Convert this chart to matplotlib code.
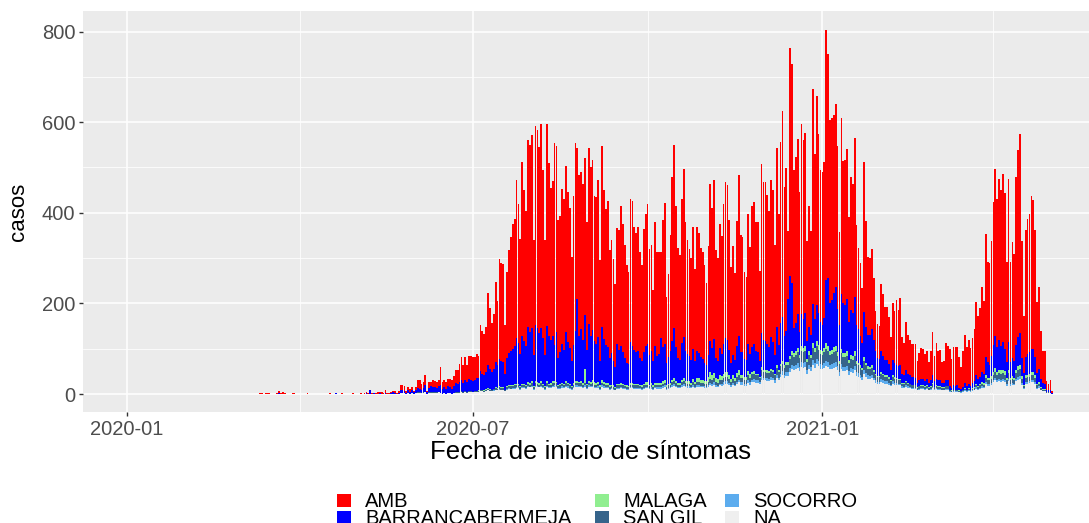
import numpy as np
import pandas as pd
import matplotlib
matplotlib.use("Agg")
import matplotlib.pyplot as plt
import matplotlib.dates as mdates
from matplotlib.patches import Rectangle

plt.rcParams['font.family'] = ['Liberation Sans', 'DejaVu Sans']

# casos diarios desde 2020-01-02 (altura total de la barra apilada)
total = (
    [1, 0, 1] + [0] * 66
    + [3, 2, 1, 2, 2, 3, 1]
    + [1, 0, 2, 7, 3, 4, 2, 1, 1, 1, 2, 3, 1]
    + [0, 1, 0, 1, 1, 2, 1, 0, 1, 1, 1, 0, 1, 0, 1, 1, 0, 2, 1, 0]
    + [3, 1, 1, 2, 1, 1, 0, 1, 1, 2, 1, 0, 1, 2, 1]
    + [3, 5, 2, 10, 3, 3, 2, 4, 5, 4, 2, 8, 3, 3, 4, 7, 6, 3, 7, 21,
       19, 18, 6, 15, 11, 15, 7, 16, 31, 30, 22, 27, 41, 7, 26, 26, 30, 28, 26, 31]
    + [59, 26, 30, 27, 33, 33, 31, 40, 52, 52, 66, 81, 63, 81, 64, 85, 83, 82, 82, 88,
       85, 153, 139, 133, 147, 223, 190, 156, 177, 247, 206, 298, 290, 288, 153, 269, 317, 346, 376, 387,
       472, 420, 343, 512, 450, 405, 560, 549, 571, 339, 591, 582, 545, 595, 494, 339, 597, 510]
    + [455, 470, 554, 548, 383, 394, 452, 430, 503, 445, 410, 302, 438, 553, 542, 483, 490, 464, 522, 380,
       542, 500, 517, 438, 435, 473, 295, 548, 451, 409, 427, 318, 340, 298, 242, 366, 362, 416, 376, 328,
       285, 269, 431, 427, 368, 355, 369, 313, 284, 365, 398, 419, 321]
    + [330, 230, 380, 313, 313, 313, 383, 422, 215, 265, 350, 478, 549, 416, 322, 306, 431, 496, 380, 340,
       321, 300, 368, 276, 369, 355, 322, 313, 285, 245, 326, 464, 410, 472, 318, 300, 376, 348, 420, 468,
       462, 383, 280, 326, 267, 381, 483, 350, 346, 269, 258, 398, 324]
    + [415, 423, 379, 379, 271, 507, 468, 468, 440, 404, 472, 450, 329, 543, 397, 557, 625, 458, 498, 360,
       763, 728, 495, 524, 563, 447, 596, 561, 577, 337, 415, 359, 674, 529, 658, 574, 495, 491, 513, 803,
       750, 604, 609, 615, 641, 548]
    + [357, 610, 515, 516, 540, 390, 478, 463, 566, 374, 322, 289, 233, 513, 381, 303, 300, 320, 257, 184,
       154, 150, 243, 221, 193, 193, 169, 126, 200, 184, 208, 185, 213, 126, 112, 158, 131, 119, 110, 110,
       110, 72, 90, 101, 99, 88, 96, 70, 94, 136, 85, 112, 96, 97, 70, 74, 112, 107]
    + [99, 77, 103, 103, 103, 81, 59, 95, 131, 103, 119, 101, 124, 144, 203, 173, 189, 236, 206, 354,
       291, 289, 338, 424, 496, 431, 475, 450, 485, 444, 291, 475, 291, 335, 308, 480, 539, 573, 338, 173,
       361, 387, 398, 438, 429, 361, 204, 236, 139, 94, 94, 29, 22, 31, 7]
)

barranca = (
    [0] * 69
    + [0, 1, 0, 0, 1, 0, 0]
    + [0, 0, 1, 2, 1, 1, 0, 0, 1, 0, 1, 1, 0]
    + [0, 1, 0, 1, 0, 1, 1, 0, 1, 0, 0, 0, 1, 0, 0, 1, 0, 1, 1, 0]
    + [2, 0, 1, 1, 0, 1, 0, 0, 1, 1, 0, 0, 1, 1, 0]
    + [1, 2, 1, 8, 1, 2, 1, 1, 2, 1, 1, 2, 1, 1, 2, 3, 2, 1, 2, 6,
       5, 4, 2, 5, 3, 6, 3, 7, 9, 8, 6, 10, 15, 3, 10, 14, 12, 11, 9, 13]
    + [18, 10, 12, 10, 14, 12, 11, 15, 20, 18, 22, 25, 20, 26, 22, 28, 25, 24, 26, 28,
       27, 40, 35, 33, 38, 50, 45, 38, 44, 55, 50, 60, 58, 56, 35, 62, 70, 75, 80, 85,
       100, 90, 72, 105, 95, 88, 120, 112, 118, 70, 125, 120, 110, 118, 100, 70, 122, 105]
    + [95, 100, 80, 110, 60, 70, 85, 75, 110, 90, 80, 55, 85, 110, 180, 100, 115, 95, 120, 75,
       125, 100, 110, 90, 85, 100, 55, 118, 95, 85, 80, 60, 70, 55, 45, 88, 75, 80, 70, 60,
       50, 48, 90, 80, 75, 70, 72, 60, 55, 70, 80, 85, 65]
    + [70, 55, 80, 60, 65, 100, 75, 80, 50, 60, 70, 85, 110, 75, 55, 50, 80, 90, 65, 60,
       55, 50, 65, 45, 60, 55, 50, 45, 40, 35, 50, 70, 60, 75, 45, 40, 60, 50, 65, 75,
       70, 55, 35, 45, 40, 60, 75, 50, 50, 40, 38, 60, 45]
    + [55, 60, 50, 48, 35, 75, 65, 62, 58, 52, 70, 60, 42, 85, 55, 90, 95, 65, 70, 140,
       175, 150, 55, 60, 75, 50, 70, 65, 72, 40, 52, 45, 85, 65, 80, 70, 60, 58, 65, 140,
       150, 105, 110, 120, 130, 95]
    + [80, 120, 110, 105, 115, 85, 100, 95, 120, 80, 75, 65, 55, 100, 80, 70, 70, 80, 65, 50,
       40, 38, 45, 40, 35, 35, 30, 22, 35, 32, 30, 28, 30, 20, 18, 25, 20, 18, 17, 17,
       16, 10, 14, 15, 14, 12, 14, 10, 13, 18, 12, 15, 13, 13, 10, 10, 14, 13]
    + [8, 6, 9, 8, 9, 6, 4, 7, 10, 8, 9, 8, 10, 12, 18, 15, 16, 22, 20, 40,
       35, 30, 45, 60, 70, 55, 65, 55, 60, 50, 35, 60, 35, 40, 38, 55, 65, 70, 40, 25,
       40, 45, 48, 50, 50, 40, 25, 28, 18, 12, 10, 5, 4, 5, 1]
)

malaga = (
    [0] * 69 + [0] * 95
    + [0] * 20
    + [1, 1, 0, 1, 1, 2, 1, 1, 1, 2, 2, 2, 2, 2, 1, 2, 3, 2, 3, 3,
       3, 3, 2, 3, 3, 2, 4, 3, 4, 2, 4, 3, 3, 4, 3, 2, 4, 3]
    + [3, 4, 4, 3, 2, 3, 3, 3, 4, 3, 3, 2, 3, 4, 4, 3, 4, 3, 30, 3,
       4, 4, 8, 6, 5, 4, 3, 6, 5, 4, 4, 3, 3, 3, 2, 4, 4, 4, 4, 3,
       3, 3, 4, 4, 4, 4, 4, 3, 3, 4, 5, 5, 4]
    + [4, 3, 4, 4, 4, 4, 5, 5, 3, 3, 4, 5, 6, 5, 4, 4, 6, 7, 5, 5,
       5, 4, 7, 5, 8, 9, 7, 8, 6, 7, 10, 14, 12, 12, 8, 8, 10, 9, 10, 11,
       11, 9, 7, 8, 7, 9, 10, 8, 8, 7, 7, 9, 8]
    + [5, 5, 4, 4, 3, 6, 5, 5, 5, 5, 5, 5, 4, 6, 5, 6, 7, 5, 6, 6,
       8, 9, 8, 9, 10, 7, 10, 9, 10, 7, 8, 7, 11, 9, 11, 10, 9, 8, 9, 12,
       11, 9, 9, 10, 10, 8]
    + [7, 10, 9, 9, 9, 7, 8, 8, 9, 7, 6, 6, 5, 8, 6, 5, 5, 6, 5, 4,
       3, 3, 4, 4, 3, 3, 3, 2, 3, 3, 2, 2, 2, 2, 2, 2, 2, 1, 1, 1,
       1, 1, 1, 1, 1, 1, 1, 1, 1, 2, 1, 1, 1, 1, 1, 1, 1, 1]
    + [1, 1, 1, 1, 1, 1, 1, 1, 2, 1, 2, 1, 2, 2, 3, 2, 3, 4, 3, 6,
       5, 5, 6, 7, 8, 7, 8, 8, 8, 7, 5, 8, 5, 6, 5, 8, 9, 10, 6, 3,
       6, 6, 7, 7, 7, 6, 3, 4, 2, 2, 2, 1, 1, 0, 0]
)

san_gil = (
    [0] * 69 + [0] * 55
    + [0, 0, 0, 0, 0, 0, 0, 0, 0, 0, 0, 0, 0, 0, 0, 0, 0, 0, 0, 1,
       1, 1, 0, 1, 0, 1, 0, 1, 1, 1, 1, 1, 1, 0, 1, 1, 1, 1, 1, 1]
    + [1, 0, 1, 0, 1, 1, 0, 1, 1, 1, 1, 2, 1, 2, 1, 2, 2, 1, 2, 2,
       2, 3, 2, 2, 3, 3, 3, 2, 3, 3, 3, 4, 4, 3, 2, 4, 4, 5, 4, 5,
       5, 5, 4, 5, 5, 4, 6, 5, 6, 4, 6, 6, 5, 6, 5, 4, 6, 5]
    + [5, 6, 6, 6, 4, 5, 5, 5, 6, 5, 5, 4, 5, 6, 6, 6, 6, 5, 6, 5,
       6, 5, 6, 5, 5, 5, 4, 6, 5, 5, 5, 4, 4, 4, 3, 5, 5, 5, 5, 4,
       4, 4, 5, 5, 5, 5, 5, 4, 4, 5, 5, 5, 4]
    + [5, 4, 5, 5, 5, 5, 6, 6, 4, 5, 5, 6, 7, 6, 5, 5, 6, 7, 6, 6,
       6, 5, 7, 6, 7, 7, 6, 6, 6, 6, 7, 9, 8, 9, 7, 7, 8, 8, 9, 10,
       10, 9, 7, 9, 8, 10, 11, 9, 9, 8, 8, 11, 10]
    + [12, 12, 11, 11, 9, 14, 13, 13, 12, 12, 13, 13, 11, 15, 13, 16, 17, 15, 16, 16,
       20, 22, 21, 22, 24, 20, 25, 24, 25, 18, 22, 20, 26, 24, 27, 25, 23, 22, 24, 26,
       25, 22, 23, 24, 25, 22]
    + [18, 24, 22, 22, 23, 18, 21, 20, 23, 18, 17, 16, 14, 20, 17, 15, 15, 15, 13, 11,
       10, 10, 12, 11, 10, 10, 9, 8, 10, 9, 9, 8, 8, 6, 6, 7, 6, 6, 5, 5,
       5, 4, 5, 5, 5, 4, 5, 4, 4, 6, 4, 5, 4, 4, 4, 4, 5, 5]
    + [2, 2, 3, 3, 3, 2, 2, 2, 3, 3, 3, 3, 3, 4, 5, 4, 5, 6, 5, 9,
       8, 8, 9, 11, 13, 11, 12, 12, 12, 11, 8, 12, 8, 9, 8, 12, 14, 15, 9, 5,
       9, 10, 10, 11, 11, 9, 5, 6, 4, 3, 3, 1, 1, 1, 0]
)

socorro = (
    [1] + [0] * 68 + [0] * 95
    + [0] * 20
    + [1, 0, 1, 0, 1, 1, 0, 1, 1, 1, 1, 1, 1, 1, 0, 1, 2, 1, 1, 2,
       1, 2, 1, 1, 2, 1, 2, 1, 2, 1, 2, 2, 1, 2, 1, 1, 2, 1]
    + [2, 3, 3, 3, 2, 2, 3, 2, 3, 3, 2, 2, 2, 3, 3, 3, 3, 2, 3, 2,
       3, 3, 3, 2, 2, 3, 2, 3, 3, 2, 2, 2, 2, 2, 1, 2, 2, 3, 2, 2,
       2, 2, 3, 3, 2, 2, 2, 2, 2, 2, 3, 3, 2]
    + [3, 2, 3, 3, 3, 3, 3, 4, 2, 3, 3, 4, 4, 3, 3, 3, 4, 4, 3, 3,
       3, 3, 4, 3, 4, 4, 3, 3, 3, 3, 4, 5, 4, 5, 4, 3, 4, 4, 5, 5,
       5, 5, 4, 5, 4, 5, 6, 5, 5, 4, 4, 6, 5]
    + [6, 6, 5, 5, 4, 7, 6, 6, 6, 6, 6, 6, 5, 7, 6, 7, 8, 7, 8, 8,
       9, 10, 9, 10, 10, 9, 11, 10, 11, 8, 10, 9, 11, 10, 12, 11, 10, 10, 11, 12,
       11, 10, 10, 11, 11, 10]
    + [8, 11, 10, 10, 10, 8, 9, 9, 10, 8, 8, 7, 6, 9, 8, 7, 7, 7, 6, 5,
       5, 5, 6, 5, 5, 5, 4, 4, 5, 4, 4, 4, 4, 3, 3, 3, 3, 3, 2, 2,
       2, 2, 2, 2, 2, 2, 2, 2, 2, 3, 2, 2, 2, 2, 2, 2, 2, 2]
    + [1, 1, 1, 1, 1, 1, 1, 1, 2, 1, 2, 1, 2, 2, 3, 2, 3, 3, 3, 4,
       4, 4, 4, 5, 6, 5, 5, 5, 5, 5, 4, 5, 4, 4, 4, 5, 6, 6, 4, 2,
       4, 4, 4, 5, 5, 4, 2, 3, 2, 1, 1, 1, 1, 0, 0]
)

# casos sin municipio asignado (NA), capa inferior casi del color del fondo
na = (
    [0] * 69 + [0] * 55
    + [0, 0, 0, 0, 0, 0, 0, 0, 0, 0, 0, 1, 0, 0, 0, 1, 0, 0, 1, 2,
       2, 2, 1, 2, 1, 2, 1, 2, 3, 3, 2, 3, 4, 1, 3, 3, 3, 3, 3, 4]
    + [2, 1, 2, 1, 2, 2, 1, 2, 3, 3, 3, 4, 3, 4, 3, 4, 4, 4, 4, 5,
       4, 6, 6, 5, 6, 8, 7, 6, 7, 9, 8, 10, 9, 9, 6, 10, 11, 11, 12, 12,
       14, 13, 10, 14, 13, 12, 15, 15, 16, 10, 16, 15, 15, 16, 14, 10, 16, 14]
    + [14, 15, 16, 15, 12, 12, 14, 13, 15, 14, 12, 10, 14, 16, 16, 15, 15, 14, 16, 12,
       16, 15, 15, 14, 13, 14, 10, 16, 14, 13, 13, 10, 11, 10, 9, 12, 12, 13, 12, 11,
       10, 9, 13, 13, 12, 12, 12, 11, 10, 12, 13, 13, 11]
    + [12, 10, 13, 12, 12, 12, 14, 15, 10, 11, 13, 16, 18, 15, 13, 13, 16, 18, 15, 14,
       14, 13, 16, 13, 16, 16, 15, 15, 14, 13, 16, 20, 18, 21, 16, 15, 19, 18, 21, 23,
       23, 20, 16, 20, 17, 22, 26, 21, 21, 18, 18, 24, 21]
    + [26, 27, 25, 25, 22, 32, 30, 30, 29, 28, 31, 30, 25, 35, 30, 38, 42, 36, 40, 40,
       48, 55, 52, 55, 58, 50, 60, 58, 60, 45, 55, 50, 65, 58, 66, 62, 56, 55, 58, 62,
       60, 55, 56, 58, 60, 52]
    + [40, 55, 50, 50, 52, 42, 48, 46, 52, 40, 38, 35, 32, 45, 38, 34, 33, 35, 30, 25,
       22, 22, 27, 25, 23, 23, 21, 17, 23, 21, 20, 19, 19, 14, 13, 16, 14, 13, 12, 12,
       12, 8, 10, 11, 11, 10, 11, 8, 10, 13, 9, 11, 10, 10, 8, 8, 10, 10]
    + [5, 4, 5, 5, 5, 4, 3, 5, 7, 5, 6, 5, 7, 8, 12, 10, 11, 14, 13, 22,
       18, 18, 21, 26, 30, 26, 29, 27, 29, 27, 18, 29, 18, 20, 19, 29, 32, 34, 20, 11,
       22, 23, 24, 26, 26, 22, 12, 14, 8, 6, 6, 2, 2, 2, 1]
)

fechas = pd.date_range('2020-01-02', periods=len(total), freq='D')
total = np.array(total)
otros = np.array(barranca) + np.array(malaga) + np.array(san_gil) + np.array(socorro) + np.array(na)
amb = total - otros  # AMB es la parte superior de cada barra

nombres = ['AMB', 'BARRANCABERMEJA', 'MALAGA', 'SAN GIL', 'SOCORRO', 'NA']
colores = ['#FF0000', '#0000FF', '#90EE90', '#36648B', '#5CACEE', '#EFEFEF']
series = [amb, barranca, malaga, san_gil, socorro, na]

fig = plt.figure(figsize=(10.89, 5.23), dpi=100)
ax = fig.add_axes([0.0762, 0.2122, 0.932, 0.7667])
ax.set_facecolor('#EBEBEB')

# apilado de abajo hacia arriba: NA, SOCORRO, SAN GIL, MALAGA, BARRANCABERMEJA, AMB
base = np.zeros(len(total))
for valores, color in zip(series[::-1], colores[::-1]):
    valores = np.array(valores, dtype=float)
    ax.bar(fechas, valores, width=0.9, bottom=base, color=color, linewidth=0, zorder=3)
    base = base + valores

origen = pd.Timestamp('2020-01-01')
ax.set_xlim(origen - pd.Timedelta(days=23.2), origen + pd.Timedelta(days=511))
ax.set_ylim(-39.7, 845.3)

ax.set_yticks([0, 200, 400, 600, 800])
ax.set_yticks([100, 300, 500, 700], minor=True)
ax.set_xticks(pd.to_datetime(['2020-01-01', '2020-07-01', '2021-01-01']))
ax.set_xticks(pd.to_datetime(['2020-04-01', '2020-10-01', '2021-04-01']), minor=True)
ax.xaxis.set_major_formatter(mdates.DateFormatter('%Y-%m'))

ax.grid(which='major', color='white', linewidth=1.1, zorder=0)
ax.grid(which='minor', color='white', linewidth=0.55, zorder=0)
ax.set_axisbelow(True)
for s in ax.spines.values():
    s.set_visible(False)

ax.tick_params(which='major', length=3, width=1.0, color='#333333',
               labelcolor='#4D4D4D', labelsize=14.5, pad=2.5)
ax.tick_params(which='minor', length=0)

ax.set_xlabel('Fecha de inicio de síntomas', fontsize=18.5, labelpad=1)
ax.set_ylabel('casos', fontsize=16, labelpad=9)

# leyenda inferior en tres columnas (orden por columnas, como ggplot)
W, H = 1089.0, 523.0
clave_x = [336.7, 595.0, 725.0]
texto_x = [365.0, 623.0, 753.0]
clave_y = [494.0, 510.7]
base_y = [507.3, 524.0]
for i, (nombre, color) in enumerate(zip(nombres, colores)):
    col, fila = i // 2, i % 2
    fig.add_artist(Rectangle((clave_x[col] / W, 1 - (clave_y[fila] + 13) / H), 14 / W, 13 / H,
                             transform=fig.transFigure, facecolor=color, edgecolor='none'))
    fig.text(texto_x[col] / W, 1 - base_y[fila] / H, nombre, fontsize=14.5,
             ha='left', va='baseline', color='black')

fig.savefig('out.png', dpi=100)
